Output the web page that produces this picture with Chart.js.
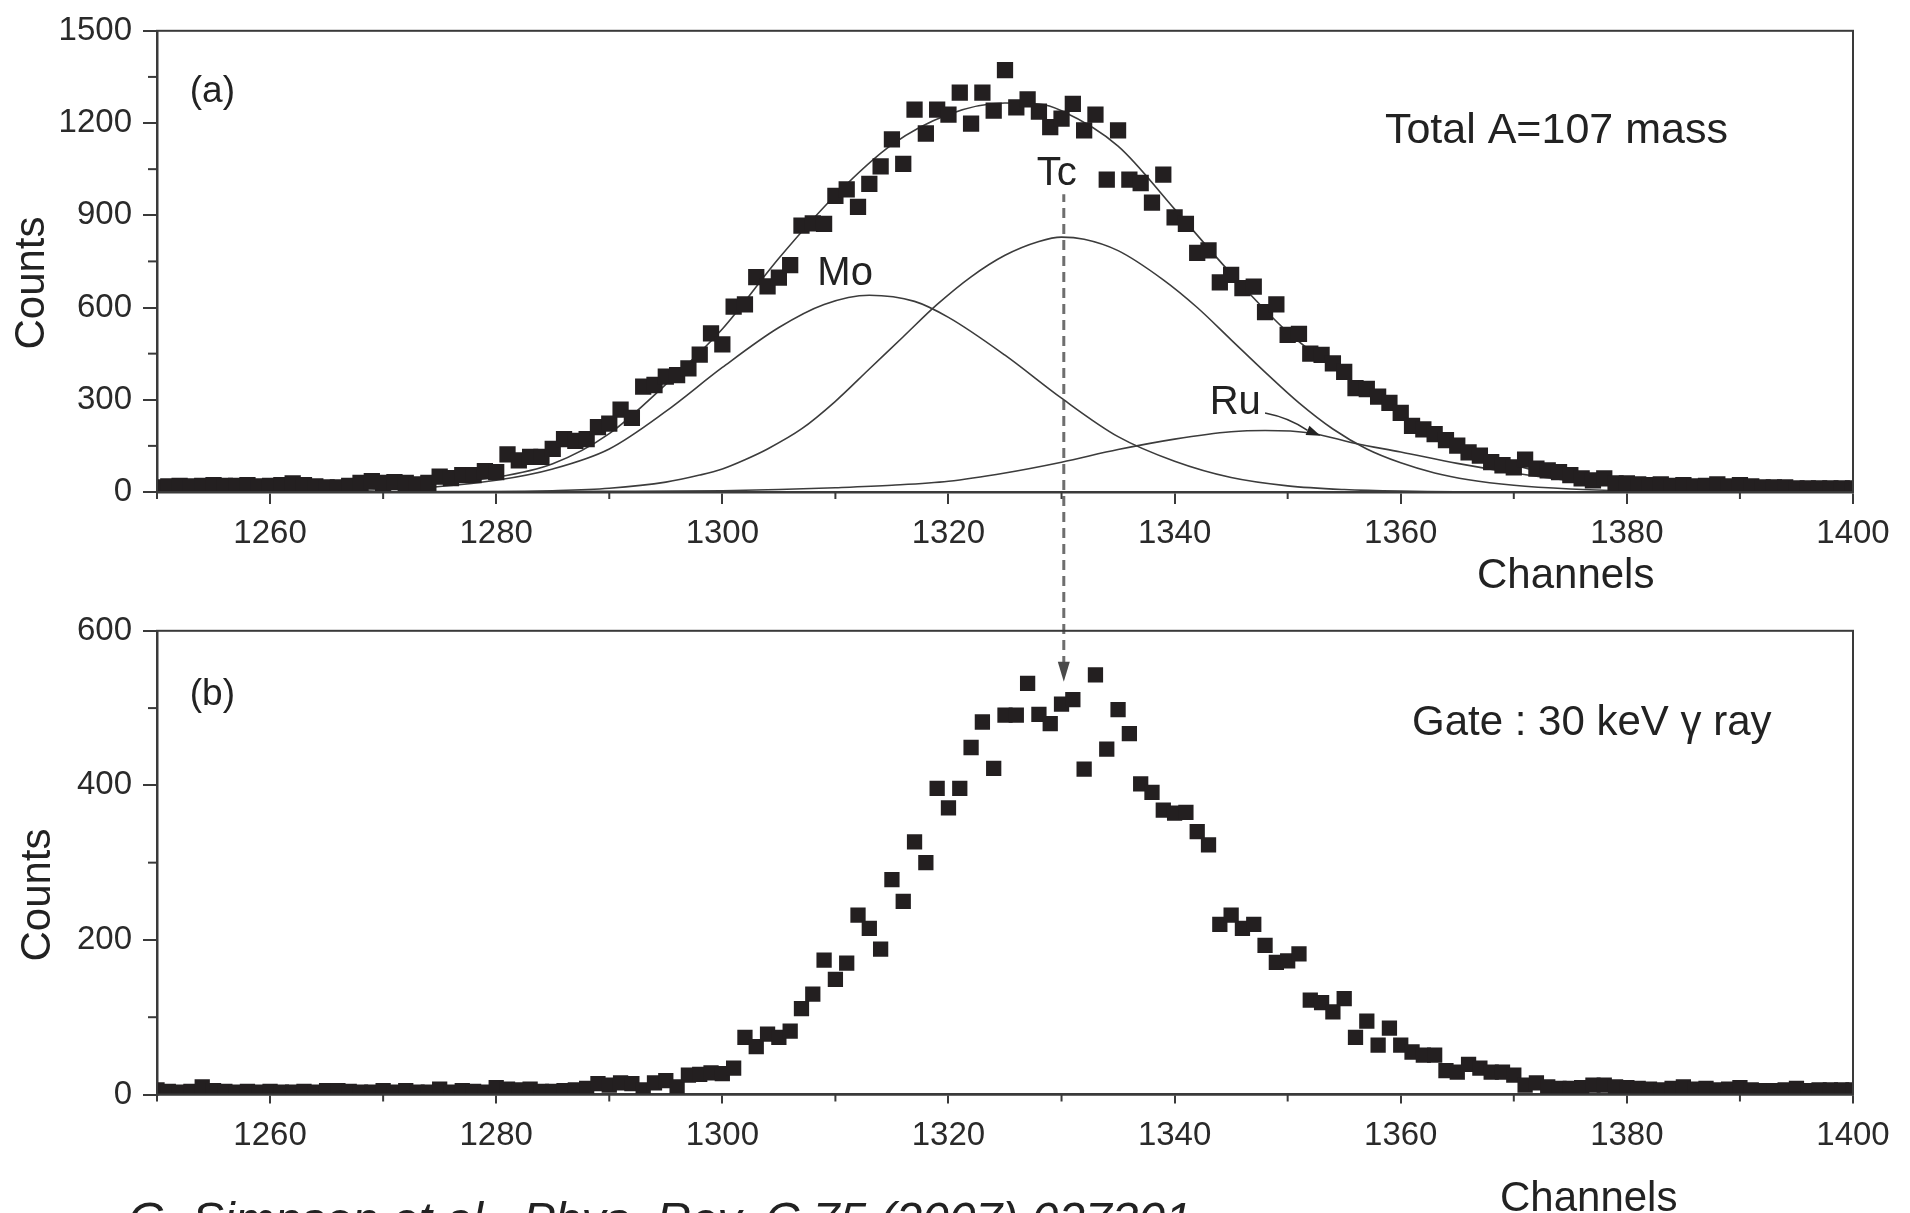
<!DOCTYPE html>
<html>
<head>
<meta charset="utf-8">
<title>A=107 mass spectrum</title>
<script src="https://cdn.jsdelivr.net/npm/chart.js@4.4.1/dist/chart.umd.min.js"></script>
<style>
  html, body { margin: 0; padding: 0; background: #fff; }
  body { width: 1910px; height: 1213px; position: relative; overflow: hidden; }
  canvas { position: absolute; left: 0; }
  #topChart { top: 0; }
  #bottomChart { top: 600px; }
</style>
</head>
<body>
<canvas id="topChart" width="1910" height="600"></canvas>
<canvas id="bottomChart" width="1910" height="613"></canvas>
<script>
const FONT = "'Liberation Sans', Arial, Helvetica, sans-serif";
const INK = "#231f20";
const AXIS = "#3a3a3a";

// Channels 1250 .. 1400
const channels = [
  1250, 1251, 1252, 1253, 1254, 1255, 1256, 1257, 1258, 1259,
  1260, 1261, 1262, 1263, 1264, 1265, 1266, 1267, 1268, 1269,
  1270, 1271, 1272, 1273, 1274, 1275, 1276, 1277, 1278, 1279,
  1280, 1281, 1282, 1283, 1284, 1285, 1286, 1287, 1288, 1289,
  1290, 1291, 1292, 1293, 1294, 1295, 1296, 1297, 1298, 1299,
  1300, 1301, 1302, 1303, 1304, 1305, 1306, 1307, 1308, 1309,
  1310, 1311, 1312, 1313, 1314, 1315, 1316, 1317, 1318, 1319,
  1320, 1321, 1322, 1323, 1324, 1325, 1326, 1327, 1328, 1329,
  1330, 1331, 1332, 1333, 1334, 1335, 1336, 1337, 1338, 1339,
  1340, 1341, 1342, 1343, 1344, 1345, 1346, 1347, 1348, 1349,
  1350, 1351, 1352, 1353, 1354, 1355, 1356, 1357, 1358, 1359,
  1360, 1361, 1362, 1363, 1364, 1365, 1366, 1367, 1368, 1369,
  1370, 1371, 1372, 1373, 1374, 1375, 1376, 1377, 1378, 1379,
  1380, 1381, 1382, 1383, 1384, 1385, 1386, 1387, 1388, 1389,
  1390, 1391, 1392, 1393, 1394, 1395, 1396, 1397, 1398, 1399,
  1400
];

// (a) total A=107 mass counts
const totalCounts = [
  15, 18, 20, 18, 20, 22, 20, 20, 22, 18,
  20, 22, 28, 22, 18, 15, 15, 20, 30, 35,
  30, 32, 30, 25, 30, 50, 45, 55, 55, 68,
  65, 122, 103, 114, 114, 140, 172, 166, 172, 211,
  222, 268, 241, 343, 348, 375, 380, 402, 447, 516,
  480, 603, 610, 699, 669, 697, 738, 866, 874, 872,
  963, 984, 927, 1002, 1059, 1147, 1067, 1244, 1166, 1244,
  1227, 1299, 1198, 1299, 1240, 1372, 1251, 1277, 1237, 1187,
  1214, 1262, 1176, 1227, 1016, 1176, 1016, 1005, 941, 1032,
  893, 872, 778, 786, 682, 706, 663, 668, 585, 610,
  511, 514, 450, 446, 418, 391, 338, 335, 310, 290,
  257, 215, 204, 188, 169, 151, 129, 118, 97, 87,
  80, 105, 76, 70, 65, 55, 44, 38, 44, 28,
  28, 25, 22, 25, 20, 22, 18, 20, 25, 18,
  22, 18, 15, 15, 15, 12, 12, 12, 12, 12,
  12
];

// (b) counts gated on the 30 keV gamma ray
const gatedCounts = [
  6, 4, 3, 4, 10, 5, 4, 3, 4, 3,
  4, 3, 3, 4, 3, 5, 5, 4, 3, 3,
  5, 3, 5, 3, 3, 7, 3, 5, 4, 3,
  9, 7, 6, 7, 4, 4, 5, 6, 8, 14,
  12, 15, 14, 6, 15, 18, 10, 25, 26, 28,
  27, 34, 74, 62, 78, 74, 82, 111, 130, 174,
  149, 170, 232, 215, 188, 278, 250, 327, 300, 396,
  371, 396, 449, 482, 422, 491, 491, 532, 492, 480,
  505, 511, 421, 543, 447, 498, 467, 402, 391, 368,
  364, 365, 340, 323, 220, 232, 215, 220, 193, 171,
  173, 182, 122, 119, 107, 124, 74, 95, 64, 86,
  64, 55, 51, 51, 31, 29, 39, 34, 29, 29,
  25, 12, 15, 10, 8, 8, 9, 12, 12, 10,
  9, 8, 7, 6, 8, 10, 7, 8, 6, 7,
  9, 6, 5, 5, 6, 8, 5, 6, 6, 6,
  6
];

// fitted curves
const sumFitCh = [1250, 1255, 1260, 1265, 1270, 1275, 1280, 1285, 1290, 1295, 1300, 1305, 1310, 1315, 1320, 1325, 1328, 1330, 1335, 1340, 1345, 1350, 1355, 1360, 1365, 1370, 1375, 1380, 1385, 1390, 1395, 1400];
const sumFit = [12, 12, 13, 16, 22, 30, 48, 92, 190, 350, 530, 760, 965, 1130, 1228, 1265, 1262, 1240, 1125, 920, 710, 520, 380, 252, 155, 88, 45, 26, 17, 14, 13, 12];

const moFitCh = [1250, 1260, 1265, 1270, 1275, 1280, 1285, 1290, 1295, 1300, 1305, 1309, 1313, 1317, 1320, 1325, 1330, 1335, 1340, 1345, 1350, 1355, 1360, 1370, 1400];
const moFit = [0, 1, 3, 8, 18, 38, 75, 140, 262, 405, 535, 610, 640, 620, 568, 445, 305, 180, 100, 47, 20, 8, 3, 0, 0];

const tcFitCh = [1250, 1280, 1285, 1290, 1295, 1298, 1300, 1302, 1304, 1307, 1310, 1313, 1316, 1319, 1322, 1325, 1328, 1330, 1332, 1335, 1339, 1342, 1345, 1348, 1351, 1354, 1357, 1360, 1363, 1366, 1370, 1375, 1380, 1390, 1400];
const tcFit = [0, 1, 4, 12, 32, 55, 75, 105, 140, 205, 295, 400, 505, 610, 700, 770, 815, 829, 822, 785, 690, 600, 495, 390, 290, 205, 140, 95, 62, 40, 22, 10, 4, 1, 0];

const ruFitCh = [1250, 1290, 1300, 1305, 1310, 1315, 1320, 1325, 1330, 1335, 1340, 1345, 1348, 1352, 1356, 1360, 1365, 1370, 1375, 1380, 1385, 1390, 1400];
const ruFit = [0, 2, 4, 8, 14, 22, 35, 62, 97, 138, 172, 196, 200, 192, 158, 130, 93, 62, 37, 18, 8, 3, 0];

const toXY = (xs, ys) => xs.map((x, i) => ({ x: x, y: ys[i] }));

function fitLine(xs, ys) {
  return {
    data: toXY(xs, ys),
    showLine: true,
    pointRadius: 0,
    borderColor: "#3c3c3c",
    borderWidth: 1.6,
    cubicInterpolationMode: "monotone",
    order: 2
  };
}

function drawText(ctx, t) {
  ctx.save();
  ctx.font = (t.italic ? "italic " : "") + t.size + "px " + FONT;
  ctx.fillStyle = "#222";
  ctx.textAlign = t.align || "left";
  ctx.textBaseline = t.baseline || "alphabetic";
  if (t.rotate) {
    ctx.translate(t.x, t.y);
    ctx.rotate(-Math.PI / 2);
    ctx.fillText(t.text, 0, 0);
  } else {
    ctx.fillText(t.text, t.x, t.y);
  }
  ctx.restore();
}

// frame, minor ticks, Tc marker line, labels and the Ru arrow
const figureExtras = {
  id: "figureExtras",
  beforeDatasetsDraw(chart, args, o) {
    if (!o.tcLine) return;
    const { ctx } = chart;
    const x = chart.scales.x, y = chart.scales.y;
    const px = x.getPixelForValue(o.tcLine.channel);
    const y0 = o.tcLine.from != null ? y.getPixelForValue(o.tcLine.from) : 0;
    const tipY = o.tcLine.to != null ? y.getPixelForValue(o.tcLine.to) : null;
    const y1 = tipY != null ? tipY - 18 : chart.height;
    ctx.save();
    ctx.strokeStyle = "#6e6e6e";
    ctx.lineWidth = 3;
    ctx.setLineDash([10, 6]);
    ctx.lineDashOffset = o.canvasTop + y0;
    ctx.beginPath();
    ctx.moveTo(px, y0);
    ctx.lineTo(px, y1);
    ctx.stroke();
    if (tipY != null) {
      ctx.setLineDash([]);
      ctx.fillStyle = "#4a4a4a";
      ctx.beginPath();
      ctx.moveTo(px - 6, tipY - 20);
      ctx.lineTo(px + 6, tipY - 20);
      ctx.lineTo(px, tipY);
      ctx.closePath();
      ctx.fill();
    }
    ctx.restore();
  },
  afterDraw(chart, args, o) {
    const { ctx, chartArea: a } = chart;
    const x = chart.scales.x, y = chart.scales.y;
    ctx.save();
    ctx.strokeStyle = AXIS;
    ctx.lineWidth = 2;
    ctx.strokeRect(a.left, a.top, a.right - a.left, a.bottom - a.top);

    // shorter minor ticks
    x.ticks.forEach(t => {
      if (t.value % o.xMajor === 0) return;
      const px = x.getPixelForValue(t.value);
      ctx.beginPath();
      ctx.moveTo(px, a.bottom);
      ctx.lineTo(px, a.bottom + o.xMinorLen);
      ctx.stroke();
    });
    y.ticks.forEach(t => {
      if (t.value % o.yMajor === 0) return;
      const py = y.getPixelForValue(t.value);
      ctx.beginPath();
      ctx.moveTo(a.left - 9, py);
      ctx.lineTo(a.left, py);
      ctx.stroke();
    });
    ctx.restore();

    (o.labels || []).forEach(l => drawText(ctx, {
      text: l.text, size: l.size,
      x: x.getPixelForValue(l.x), y: y.getPixelForValue(l.y)
    }));
    (o.titles || []).forEach(t => drawText(ctx, t));

    if (o.ruArrow) {
      const r = o.ruArrow;
      const x0 = x.getPixelForValue(r.from[0]), y0 = y.getPixelForValue(r.from[1]);
      const x1 = x.getPixelForValue(r.to[0]), y1 = y.getPixelForValue(r.to[1]);
      const ang = Math.atan2(y1 - y0, x1 - x0);
      const bx = x1 - 14 * Math.cos(ang), by = y1 - 14 * Math.sin(ang);
      ctx.save();
      ctx.strokeStyle = "#333";
      ctx.lineWidth = 1.6;
      ctx.beginPath();
      ctx.moveTo(x0, y0);
      ctx.quadraticCurveTo((x0 + bx) / 2 + 3, (y0 + by) / 2 - 4, bx, by);
      ctx.stroke();
      ctx.fillStyle = "#222";
      ctx.beginPath();
      ctx.moveTo(x1, y1);
      ctx.lineTo(bx + 5 * Math.sin(ang), by - 5 * Math.cos(ang));
      ctx.lineTo(bx - 5 * Math.sin(ang), by + 5 * Math.cos(ang));
      ctx.closePath();
      ctx.fill();
      ctx.restore();
    }
  }
};

function makeOptions(cfg) {
  const hideMinor = major => c => (c.tick && c.tick.value % major === 0 ? AXIS : "rgba(0,0,0,0)");
  return {
    responsive: false,
    animation: false,
    devicePixelRatio: 1,
    events: [],
    layout: { padding: { top: cfg.padTop, right: 57, left: 0, bottom: 0 } },
    plugins: {
      legend: { display: false },
      tooltip: { enabled: false },
      figureExtras: Object.assign({ xMajor: 20, yMajor: cfg.yLabelStep, xMinorLen: 7 }, cfg.extras)
    },
    scales: {
      x: {
        type: "linear",
        min: 1250,
        max: 1400,
        afterFit: s => { s.height = cfg.xAxisHeight; },
        border: { display: true, color: AXIS, width: 2.5 },
        grid: {
          drawOnChartArea: false, drawTicks: true, tickLength: cfg.xTickLen,
          color: AXIS, lineWidth: 2, tickColor: hideMinor(20)
        },
        ticks: {
          stepSize: 10,
          autoSkip: false,
          maxRotation: 0,
          padding: 22 - cfg.xTickLen,
          color: "#2a2a2a",
          font: { family: FONT, size: 33 },
          callback: v => (v % 20 === 0 ? String(v) : "")
        }
      },
      y: {
        min: 0,
        max: cfg.yMax,
        afterFit: s => { s.width = 157; },
        border: { display: true, color: AXIS, width: 2.5 },
        grid: {
          drawOnChartArea: false, drawTicks: true, tickLength: 14,
          color: AXIS, lineWidth: 2, tickColor: hideMinor(cfg.yLabelStep)
        },
        ticks: {
          stepSize: cfg.yStep,
          autoSkip: false,
          padding: 11,
          color: "#2a2a2a",
          font: { family: FONT, size: 33 },
          callback: v => (v % cfg.yLabelStep === 0 ? String(v) : "")
        }
      }
    }
  };
}

// (a) total mass spectrum with fits
new Chart(document.getElementById("topChart"), {
  type: "scatter",
  data: {
    datasets: [
      {
        data: toXY(channels, totalCounts),
        pointStyle: "rect",
        pointRadius: 11.5,
        pointBorderWidth: 0,
        backgroundColor: INK,
        order: 1
      },
      fitLine(sumFitCh, sumFit),
      fitLine(moFitCh, moFit),
      fitLine(tcFitCh, tcFit),
      fitLine(ruFitCh, ruFit)
    ]
  },
  options: makeOptions({
    padTop: 24,
    xAxisHeight: 108,
    xTickLen: 12,
    yMax: 1500,
    yStep: 150,
    yLabelStep: 300,
    extras: {
      canvasTop: 0,
      tcLine: { channel: 1330.2, from: 968 },
      labels: [
        { text: "(a)", x: 1252.9, y: 1269, size: 37 },
        { text: "Total A=107 mass", x: 1358.6, y: 1135, size: 43 },
        { text: "Mo", x: 1308.4, y: 673, size: 40 },
        { text: "Tc", x: 1327.8, y: 1000, size: 40 },
        { text: "Ru", x: 1343.1, y: 253, size: 40 }
      ],
      titles: [
        { text: "Channels", x: 1477, y: 588, size: 42 },
        { text: "Counts", x: 32, y: 283, size: 42, rotate: true, align: "center", baseline: "middle" }
      ],
      ruArrow: { from: [1348.0, 257], to: [1352.9, 183] }
    }
  }),
  plugins: [figureExtras]
});

// (b) gated spectrum
new Chart(document.getElementById("bottomChart"), {
  type: "scatter",
  data: {
    datasets: [
      {
        data: toXY(channels, gatedCounts),
        pointStyle: "rect",
        pointRadius: 10.8,
        pointBorderWidth: 0,
        backgroundColor: INK,
        order: 1
      }
    ]
  },
  options: makeOptions({
    padTop: 28,
    xAxisHeight: 118.5,
    xTickLen: 9,
    yMax: 600,
    yStep: 100,
    yLabelStep: 200,
    extras: {
      canvasTop: 600,
      tcLine: { channel: 1330.2, to: 534 },
      labels: [
        { text: "(b)", x: 1252.9, y: 503.5, size: 37 },
        { text: "Gate : 30 keV \u03b3 ray", x: 1361.0, y: 465, size: 42 }
      ],
      titles: [
        { text: "Channels", x: 1500, y: 611, size: 42 },
        { text: "Counts", x: 38, y: 295, size: 42, rotate: true, align: "center", baseline: "middle" },
        { text: "G. Simpson et al., Phys. Rev. C 75 (2007) 027301", x: 128, y: 636, size: 48, italic: true }
      ]
    }
  }),
  plugins: [figureExtras]
});
</script>
</body>
</html>
